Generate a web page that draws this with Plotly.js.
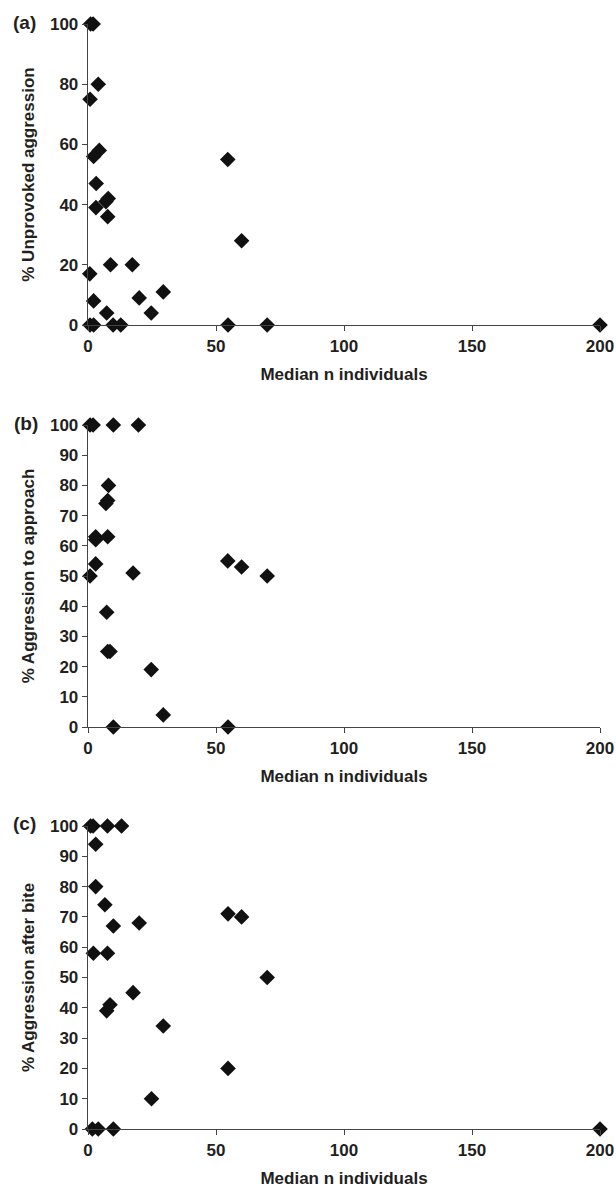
<!DOCTYPE html>
<html><head><meta charset="utf-8">
<script src="https://cdn.plot.ly/plotly-3.0.1.min.js"></script>
<style>html,body{margin:0;padding:0;background:#fff}</style>
</head><body><div id="chart" style="width:616px;height:1188px"></div>
<script>
// Panel (a): % Unprovoked aggression
var xA = [1, 2, 4, 0.8, 4.4, 2.2, 54.6, 3.2, 7.9, 7, 3.1, 7.7, 60, 8.8, 17.3, 0.7, 2.2, 20, 29.4, 24.7, 7.3, 0.8, 2.2, 9.8, 12.8, 54.7, 70, 200];
var yA = [100, 100, 80, 75, 58, 56, 55, 47, 42, 41, 39, 36, 28, 20, 20, 17, 8, 9, 11, 4, 4, 0, 0, 0, 0, 0, 0, 0];
// Panel (b): % Aggression to approach
var xB = [0.8, 2, 9.9, 19.7, 8, 7.7, 7, 3, 3, 7.7, 3, 0.8, 17.6, 54.6, 60, 70, 7.3, 7.7, 8.6, 24.7, 29.4, 9.9, 54.7];
var yB = [100, 100, 100, 100, 80, 75, 74, 63, 62, 63, 54, 50, 51, 55, 53, 50, 38, 25, 25, 19, 4, 0, 0];
// Panel (c): % Aggression after bite
var xC = [1, 2, 7.6, 13.1, 3, 3, 6.6, 54.7, 60, 20, 9.9, 2.1, 7.6, 70, 17.6, 8.6, 7.3, 29.4, 54.7, 24.8, 1.7, 4, 9.9, 200];
var yC = [100, 100, 100, 100, 94, 80, 74, 71, 70, 68, 67, 58, 58, 50, 45, 41, 39, 34, 20, 10, 0, 0, 0, 0];

var panelLabels = ["(a)", "(b)", "(c)"];
var yTitles = ["% Unprovoked aggression", "% Aggression to approach", "% Aggression after bite"];
var xTitle = "Median n individuals";

var W = 616, H = 1188;
var mL = 88, mR = 16, mT = 24, mB = 59;
var plotH = H - mT - mB;
function py(p){ return (H - mB - p) / plotH; }
function px(p){ return (p - mL) / (W - mL - mR); }

var fnt = {family: "Liberation Sans, Arial, sans-serif", size: 17, color: "#231f20", weight: "bold"};
var fntLab = {family: "Liberation Sans, Arial, sans-serif", size: 19, color: "#231f20", weight: "bold"};
var mk = {symbol: "diamond", size: 12, color: "#111111", line: {width: 0}};

var traces = [
  {x: xA, y: yA, xaxis: "x", yaxis: "y", type: "scatter", mode: "markers", marker: mk, cliponaxis: false, showlegend: false},
  {x: xB, y: yB, xaxis: "x2", yaxis: "y2", type: "scatter", mode: "markers", marker: mk, cliponaxis: false, showlegend: false},
  {x: xC, y: yC, xaxis: "x3", yaxis: "y3", type: "scatter", mode: "markers", marker: mk, cliponaxis: false, showlegend: false}
];

function xax(anchor){
  return {anchor: anchor, range: [0, 200], tickvals: [0, 50, 100, 150, 200], showgrid: false, zeroline: false,
    showline: true, linecolor: "#444", linewidth: 1.3, ticks: "outside", ticklen: 5, tickcolor: "#444",
    tickfont: fnt, title: {text: xTitle, font: fnt, standoff: 13}};
}
function yax(anchor, domain, dtick, title){
  return {anchor: anchor, domain: domain, range: [0, 100], dtick: dtick, showgrid: false, zeroline: false,
    showline: true, linecolor: "#444", linewidth: 1.3, ticks: "outside", ticklen: 5, tickcolor: "#444",
    tickfont: fnt, title: {text: title, font: fnt, standoff: 11}};
}

var layout = {
  width: W, height: H,
  margin: {l: mL, r: mR, t: mT, b: mB},
  paper_bgcolor: "#fff", plot_bgcolor: "#fff",
  font: fnt,
  xaxis: xax("y"), xaxis2: xax("y2"), xaxis3: xax("y3"),
  yaxis: yax("x", [py(325), py(24)], 20, yTitles[0]),
  yaxis2: yax("x2", [py(727), py(425)], 10, yTitles[1]),
  yaxis3: yax("x3", [py(1129), py(826)], 10, yTitles[2]),
  annotations: [
    {text: panelLabels[0], xref: "paper", yref: "paper", x: px(24), y: py(22), showarrow: false, font: fntLab, xanchor: "center", yanchor: "middle"},
    {text: panelLabels[1], xref: "paper", yref: "paper", x: px(26), y: py(423), showarrow: false, font: fntLab, xanchor: "center", yanchor: "middle"},
    {text: panelLabels[2], xref: "paper", yref: "paper", x: px(24), y: py(823), showarrow: false, font: fntLab, xanchor: "center", yanchor: "middle"}
  ]
};

Plotly.newPlot("chart", traces, layout, {displayModeBar: false, staticPlot: true});
</script></body></html>
